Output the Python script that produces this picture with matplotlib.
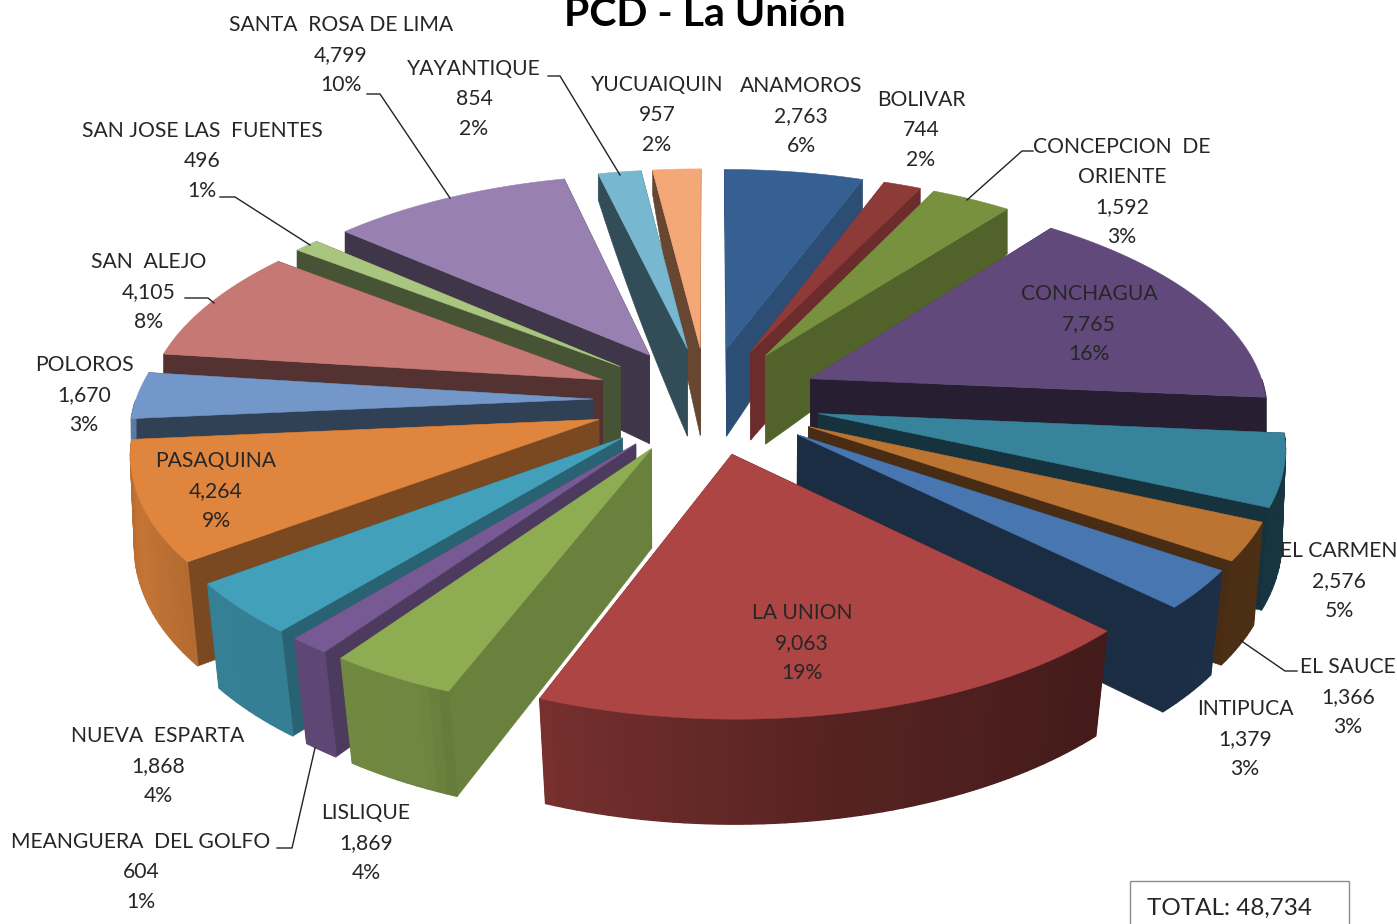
import numpy as np
import matplotlib
matplotlib.use("Agg")
import matplotlib.pyplot as plt
from matplotlib.patches import Polygon, Rectangle

plt.rcParams['font.family'] = ['Lato', 'DejaVu Sans']

# municipios, clockwise from 12 o'clock
names = ['ANAMOROS', 'BOLIVAR', 'CONCEPCION  DE\nORIENTE', 'CONCHAGUA', 'EL CARMEN', 'EL SAUCE',
         'INTIPUCA', 'LA UNION', 'LISLIQUE', 'MEANGUERA  DEL GOLFO', 'NUEVA  ESPARTA', 'PASAQUINA',
         'POLOROS', 'SAN  ALEJO', 'SAN JOSE LAS  FUENTES', 'SANTA  ROSA DE LIMA', 'YAYANTIQUE', 'YUCUAIQUIN']
values = [2763, 744, 1592, 7765, 2576, 1366, 1379, 9063, 1869, 604, 1868, 4264, 1670, 4105, 496, 4799, 854, 957]
colors = ['#376092', '#8E3A38', '#77913F', '#614A7B', '#38839C', '#BC7433', '#4876B0', '#AC4543', '#8EAD52',
          '#775A93', '#42A0BA', '#E0853D', '#7397C9', '#C67875', '#AAC57F', '#9881B0', '#77B8D0', '#F5A877']
label_x = [801, 921, 1122, 1089, 1339, 1348, 1245, 802, 366, 141, 158, 216, 84, 149, 202, 341, 474, 657]
label_y = [115, 129, 191, 323, 580, 696, 738, 642, 842, 871, 765, 490, 394, 291, 160, 54, 98, 114]

leaders = [[(367, 94), (380, 94), (450, 198)], [(548, 76), (560, 76), (620, 175)],
           [(1033, 151), (1022, 151), (967, 200)], [(220, 197), (235, 197), (310, 245)],
           [(185, 298), (208, 298), (214, 303)], [(1297, 671), (1285, 671), (1240, 640)],
           [(277, 848), (292, 848), (315, 748)]]

# look of the fake 3d pie
cx, cy = 707, 400
R, A = 457, 215
persp = 0.13
explode = 0.25

# shade of a wall against the compass angle it sits at
rim_ang = [0, 90, 134, 170, 200, 205, 233, 250, 270, 360]
rim_sh = [0.5, 0.42, 0.39, 0.5, 0.68, 0.78, 0.8, 0.88, 0.8, 0.5]
side_ang = [0, 20, 38, 95, 134, 201, 219, 233, 265, 360]
side_sh = [0.8, 0.8, 0.68, 0.4, 0.38, 0.75, 0.62, 0.55, 0.42, 0.42]


def top(X, Y):
    s = 1 / (1 - persp * Y)
    return cx + R * X * s, cy + A * Y * s


def bottom(X, Y):
    x, y = top(X, Y)
    d = 105 - 77 * ((1.25 - Y) / 2.45) ** 3
    return cx + (x - cx) * (1 - 0.03 * max(Y, 0)), y + d


def shade(col, f):
    return np.clip(np.array(matplotlib.colors.to_rgb(col)) * f, 0, 1)


fig = plt.figure(figsize=(13.97, 9.24), dpi=100)
ax = fig.add_axes([0, 0, 1, 1])
ax.set_xlim(0, 1397)
ax.set_ylim(924, 0)
ax.axis('off')

total = sum(values)
edges = np.concatenate([[0], np.cumsum(values)]) / total * 360
mids = (edges[:-1] + edges[1:]) / 2
order = np.argsort(-np.cos(np.radians(mids)))  # back slices first

for z, i in enumerate(order):
    a0, a1 = edges[i], edges[i + 1]
    m = np.radians(mids[i])
    ox, oy = explode * np.sin(m), -explode * np.cos(m)
    angs = np.linspace(a0, a1, max(int((a1 - a0) / 1.2), 2) + 1)
    px = ox + np.sin(np.radians(angs))
    py = oy - np.cos(np.radians(angs))

    # radial walls, the one further back first
    walls = sorted([(py[0], a0, px[0]), (py[-1], a1, px[-1])])
    for ye, a, xe in walls:
        xs = np.linspace(ox, xe, 12)
        ys = np.linspace(oy, ye, 12)
        pts = [top(x, y) for x, y in zip(xs, ys)] + [bottom(x, y) for x, y in zip(xs[::-1], ys[::-1])]
        c = shade(colors[i], np.interp(a, side_ang, side_sh))
        ax.add_patch(Polygon(pts, closed=True, fc=c, ec=c, lw=0.4, zorder=1 + z * 0.01))

    # rim, only the part that faces us
    for k in range(len(angs) - 1):
        am = (angs[k] + angs[k + 1]) / 2
        if np.cos(np.radians(am)) > 0:
            continue
        c = shade(colors[i], np.interp(am, rim_ang, rim_sh))
        pts = [top(px[k], py[k]), top(px[k + 1], py[k + 1]), bottom(px[k + 1], py[k + 1]), bottom(px[k], py[k])]
        ax.add_patch(Polygon(pts, closed=True, fc=c, ec=c, lw=1.0, zorder=1 + z * 0.01))

    # top face
    pts = [top(ox, oy)] + [top(x, y) for x, y in zip(px, py)]
    ax.add_patch(Polygon(pts, closed=True, fc=colors[i], ec=colors[i], lw=0.4, zorder=1.001 + z * 0.01))

for pts in leaders:
    ax.plot([p[0] for p in pts], [p[1] for p in pts], color='#222222', lw=1, zorder=3)

for n, v, x, y in zip(names, values, label_x, label_y):
    ax.text(x, y + 1, f"{n}\n{v:,}\n{v / total:.0%}", ha='center', va='center', fontsize=15.2,
            color='#262626', linespacing=1.64, zorder=4)

ax.text(705, 14, 'PCD - La Unión', ha='center', va='center', fontsize=29.5, fontweight='bold', color='black', zorder=4)

ax.add_patch(Rectangle((1130, 881), 219, 60, fc='white', ec='#8c8c8c', lw=1, zorder=3))
ax.text(1147, 908, 'TOTAL: 48,734', ha='left', va='center', fontsize=17.5, color='#262626', zorder=4)

fig.savefig('out.png', dpi=100)
